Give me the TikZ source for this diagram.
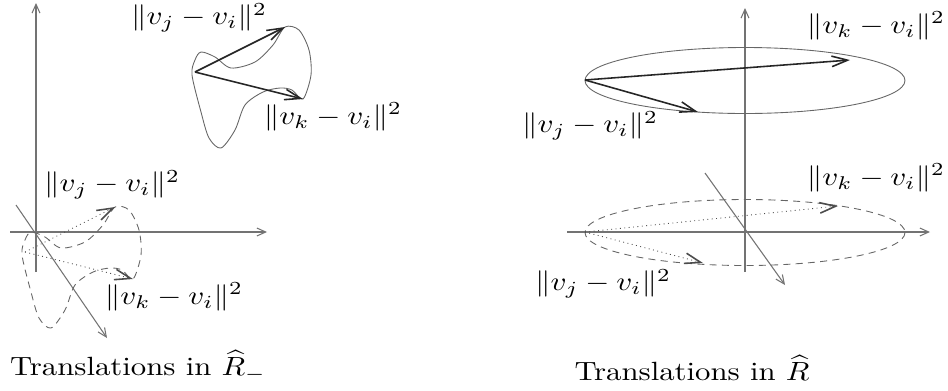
\documentclass[tikz,border=0pt]{standalone}
\usepackage{amsmath}
\usepackage{amssymb}
\usetikzlibrary{arrows.meta}

\begin{document}
\begin{tikzpicture}[x=0.02cm,y=-0.02cm,
  axis/.style={draw=black!55,line width=0.6pt,-{Straight Barb[length=5pt,width=4.5pt]}},
  vec/.style={draw=black!85,line width=0.9pt,-{Straight Barb[length=9pt,width=6pt]}},
  ghost/.style={draw=black!70,line width=0.5pt,dotted,
    -{Straight Barb[length=9pt,width=6pt,line width=0.9pt]}},
  wall/.style={draw=black!60,line width=0.5pt},
  broken/.style={dash pattern=on 4pt off 3pt},
  lab/.style={font=\normalsize,xscale=1.76,yscale=1.5,inner sep=0pt},
  caption/.style={font=\normalsize,xscale=1.75,yscale=1.5,inner sep=0pt},
  blob/.pic={
    \draw[wall] plot[smooth cycle] coordinates {(-3,3) (0,-12) (6,-20) (20,-15) (36,-4)
      (60,-10) (78,-27) (90,-45) (104,-42) (114,-22) (116,3) (108,27) (97,18) (85,16)
      (68,20) (50,33) (40,58) (26,76) (14,66) (6,40)};
    \coordinate (-v) at (0,0);
    \coordinate (-a) at (90,-45);
    \coordinate (-b) at (108,27);
  }
]
\useasboundingbox (0,0) rectangle (948,390);

% left picture: axes
\coordinate (lO) at (36,232);
\coordinate (lN) at (36,3);
\coordinate (lS) at (36,272);
\coordinate (lW) at (10,232);
\coordinate (lE) at (267,232);
\coordinate (lNW) at (16,205);
\coordinate (lSE) at (107,338);
\draw[axis] (lS) -- (lN);
\draw[axis] (lW) -- (lE);
\draw[axis] (lNW) -- (lSE);

% left picture: shapes and vectors
\pic (up) at (195,72) {blob};
\pic[broken] (lo) at (25,252) {blob};
\draw[vec] (up-v) -- (up-a);
\draw[vec] (up-v) -- (up-b);
\draw[ghost] (lo-v) -- (lo-a);
\draw[ghost] (lo-v) -- (lo-b);

\node[lab] (upj) at (199,18) {$\|v_j-v_i\|^2$};
\node[lab] (upk) at (333,117) {$\|v_k-v_i\|^2$};
\node[lab] (loj) at (112,185) {$\|v_j-v_i\|^2$};
\node[lab] (lok) at (174,297) {$\|v_k-v_i\|^2$};
\node[caption] (lcap) at (138,366) {Translations in $\widehat{R}_-$};

% right picture: axes
\coordinate (rO) at (745,232);
\coordinate (rN) at (745,8);
\coordinate (rS) at (745,272);
\coordinate (rW) at (567,232);
\coordinate (rE) at (930,232);
\coordinate (rNW) at (705,173);
\coordinate (rSE) at (785,285);
\draw[axis] (rS) -- (rN);
\draw[axis] (rW) -- (rE);
\draw[axis] (rNW) -- (rSE);

% right picture: ellipses and vectors
\draw[wall] (745,80.5) ellipse [x radius=160, y radius=33];
\draw[wall,broken] (745,232.5) ellipse [x radius=160, y radius=33];
\coordinate (ev) at (585,80);
\coordinate (ek) at (850,60);
\coordinate (ej) at (698,112);
\coordinate (dv) at (585,232);
\coordinate (dk) at (838,206);
\coordinate (dj) at (703,263);
\draw[vec] (ev) -- (ek);
\draw[vec] (ev) -- (ej);
\draw[ghost] (dv) -- (dk);
\draw[ghost] (dv) -- (dj);

\node[lab] (rupk) at (876,26) {$\|v_k-v_i\|^2$};
\node[lab] (rupj) at (590,126) {$\|v_j-v_i\|^2$};
\node[lab] (rlok) at (876,178) {$\|v_k-v_i\|^2$};
\node[lab] (rloj) at (603,284) {$\|v_j-v_i\|^2$};
\node[caption] (rcap) at (692,368) {Translations in $\widehat{R}$};
\end{tikzpicture}
\end{document}
